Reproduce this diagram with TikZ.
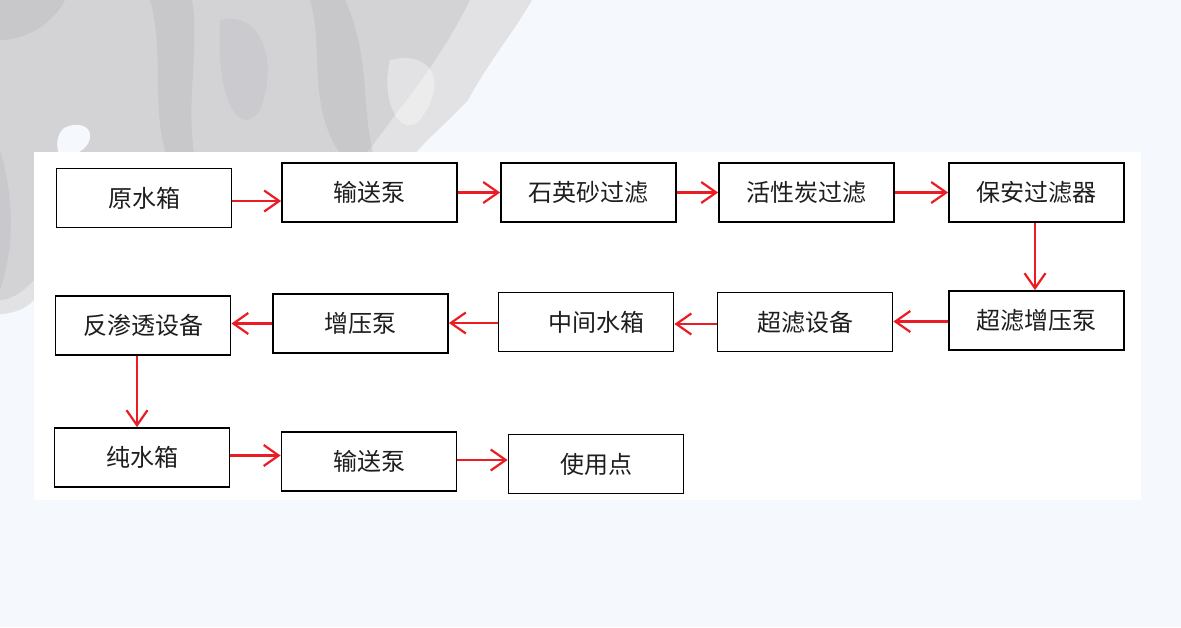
\documentclass[tikz,border=0pt]{standalone}
\usepackage{fontspec}
\setmainfont{Noto Sans CJK SC}
\usetikzlibrary{arrows.meta}
\definecolor{bgblue}{RGB}{245,249,253}
\definecolor{washA}{RGB}{226,226,228}
\definecolor{washB}{RGB}{208,208,211}
\definecolor{washC}{RGB}{175,175,180}
\definecolor{arrred}{RGB}{235,28,36}
\definecolor{txt}{RGB}{30,30,30}
\tikzset{
  box/.style={draw=black, line width=1.8pt, fill=white, minimum width=175pt, minimum height=59pt, inner sep=0pt, font=\fontsize{24}{28}\selectfont, text=txt},
  arr/.style={draw=arrred, line width=2.2pt, -{Straight Barb[length=15pt,width=21pt,line width=2.2pt]}}
}
\begin{document}
\begin{tikzpicture}[x=1pt,y=-1pt]
\useasboundingbox (0,0) rectangle (1181,627);
\fill[bgblue] (0,0) rectangle (1181,627);
% ink wash
\fill[washA] (0,0) -- (532,0) .. controls (515,30) and (490,60) .. (468,100)
  .. controls (445,125) and (425,140) .. (410,160) -- (34,160) -- (34,300)
  .. controls (25,310) and (10,314) .. (0,314) -- cycle;
\fill[washB, opacity=0.8] (0,0) -- (470,0) .. controls (450,40) and (430,70) .. (395,115)
  .. controls (380,135) and (370,150) .. (360,160) -- (34,160) -- (34,280)
  .. controls (20,295) and (8,300) .. (0,300) -- cycle;
\fill[washC, opacity=0.3] (150,0) .. controls (165,50) and (150,110) .. (168,160) -- (195,160) .. controls (185,100) and (200,50) .. (192,0) -- cycle;
\fill[washC, opacity=0.3] (310,0) .. controls (325,50) and (305,110) .. (345,160) -- (375,160) .. controls (360,110) and (372,60) .. (345,0) -- cycle;
\fill[washC, opacity=0.3] (0,0) -- (65,0) .. controls (55,20) and (30,40) .. (0,40) -- cycle;
\fill[washC, opacity=0.2] (220,20) .. controls (260,10) and (280,60) .. (260,110) .. controls (240,140) and (215,100) .. (220,20) -- cycle;
\fill[washC, opacity=0.25] (0,150) .. controls (15,200) and (14,250) .. (0,290) -- cycle;
\fill[white, opacity=0.35] (390,60) .. controls (430,50) and (450,80) .. (420,120) .. controls (400,140) and (380,100) .. (390,60) -- cycle;
\fill[bgblue] (64,128) .. controls (75,122) and (92,124) .. (90,138) .. controls (88,150) and (72,158) .. (60,156) .. controls (55,146) and (57,134) .. (64,128) -- cycle;
% white panel
\fill[white] (34,152) rectangle (1141,500);
% nodes
\node[box] (b1) at (144,198) {原水箱};
\node[box] (b2) at (369.5,192.5) {输送泵};
\node[box] (b3) at (588.5,192.5) {石英砂过滤};
\node[box] (b4) at (806.5,192.5) {活性炭过滤};
\node[box] (b5) at (1036.5,192.5) {保安过滤器};
\node[box] (b6) at (1036.5,320.5) {超滤增压泵};
\node[box] (b7) at (805,322) {超滤设备};
\node[box] (b8) at (586,322) {\hspace{20pt}中间水箱};
\node[box] (b9) at (360.5,323.5) {增压泵};
\node[box] (b10) at (143,325.5) {反渗透设备};
\node[box] (b11) at (142,457.5) {纯水箱};
\node[box] (b12) at (369,461.5) {输送泵};
\node[box] (b13) at (596,464) {使用点};
% arrows
\draw[arr] ([yshift=-3pt]b1.east) -- ([yshift=-3pt]b1.east -| b2.west);
\draw[arr] (b2.east) -- (b2.east -| b3.west);
\draw[arr] (b3.east) -- (b3.east -| b4.west);
\draw[arr] (b4.east) -- (b4.east -| b5.west);
\draw[arr] ([xshift=-1.5pt]b5.south) -- ([xshift=-1.5pt]b5.south |- b6.north);
\draw[arr] ([yshift=-1pt]b6.west) -- ([yshift=-1pt]b6.west -| b7.east);
\draw[arr] ([yshift=-2pt]b7.west) -- ([yshift=-2pt]b7.west -| b8.east);
\draw[arr] ([yshift=-1pt]b8.west) -- ([yshift=-1pt]b8.west -| b9.east);
\draw[arr] (b9.west) -- (b9.west -| b10.east);
\draw[arr] ([xshift=-6pt]b10.south) -- ([xshift=-6pt]b10.south |- b11.north);
\draw[arr] ([yshift=2pt]b11.east) -- ([yshift=2pt]b11.east -| b12.west);
\draw[arr] ([yshift=1.5pt]b12.east) -- ([yshift=1.5pt]b12.east -| b13.west);
\end{tikzpicture}
\end{document}
